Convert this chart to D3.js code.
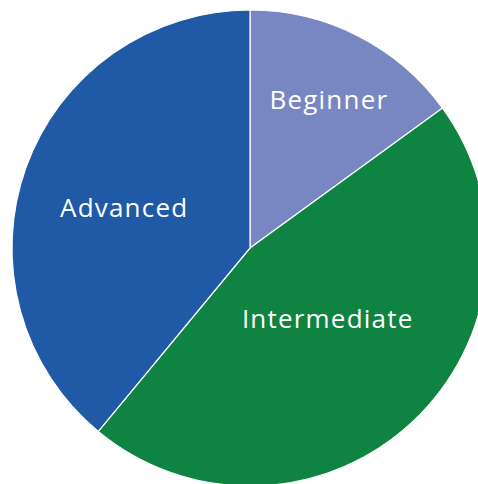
<!DOCTYPE html>
<meta charset="utf-8">
<body style="margin:0;background:#fff">
<script src="https://d3js.org/d3.v7.min.js"></script>
<script>
// data
var categories = ["Beginner", "Intermediate", "Advanced"];
var values = [15, 46, 39];
var colors = ["#7886c2", "#0f8442", "#2059a6"];
// label placement: distance from centre and angle nudge (degrees), per slice
var labelRadius = [168, 105, 132];
var labelShift = [1, -4.5, -2.2];

var width = 478, height = 484,
    cx = 250, cy = 248, radius = 238;

var svg = d3.select("body").append("svg")
    .attr("width", width)
    .attr("height", height)
  .append("g")
    .attr("transform", "translate(" + cx + "," + cy + ")");

var data = categories.map(function(c, i) { return {name: c, value: values[i], i: i}; });

var pie = d3.pie().sort(null).value(function(d) { return d.value; });
var arc = d3.arc().innerRadius(0).outerRadius(radius);

var arcs = pie(data);

svg.selectAll("path")
    .data(arcs)
  .enter().append("path")
    .attr("d", arc)
    .attr("fill", function(d) { return colors[d.data.i]; })
    .attr("stroke", "#fff")
    .attr("stroke-width", 1.2);

svg.selectAll("text")
    .data(arcs)
  .enter().append("text")
    .attr("transform", function(d) {
      var r = labelRadius[d.data.i];
      var a = (d.startAngle + d.endAngle) / 2 + labelShift[d.data.i] * Math.PI / 180;
      return "translate(" + (r * Math.sin(a)) + "," + (-r * Math.cos(a)) + ")";
    })
    .attr("text-anchor", "middle")
    .attr("dy", "0.35em")
    .style("font-family", "'Open Sans', sans-serif")
    .style("font-size", "26px")
    .style("letter-spacing", "1.2px")
    .style("fill", "#fff")
    .text(function(d) { return d.data.name; });
</script>
</body>
